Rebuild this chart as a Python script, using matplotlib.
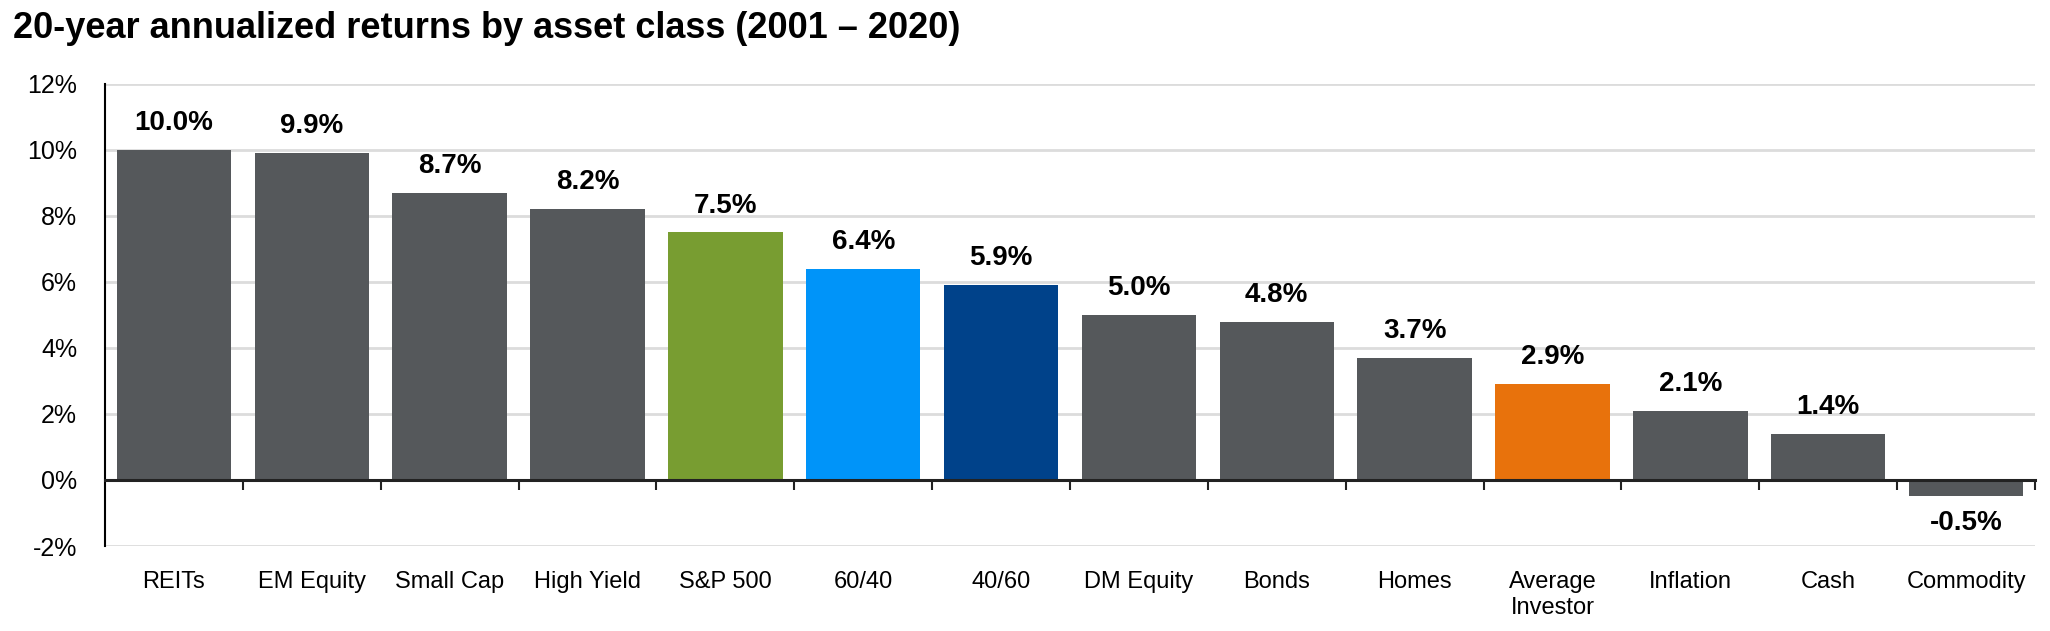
import numpy as np
import matplotlib
matplotlib.use("Agg")
import matplotlib.pyplot as plt
from matplotlib.ticker import FixedLocator

plt.rcParams['font.family'] = ['Liberation Sans', 'DejaVu Sans']

# données
categories = ["REITs", "EM Equity", "Small Cap", "High Yield", "S&P 500", "60/40", "40/60",
              "DM Equity", "Bonds", "Homes", "Average\nInvestor", "Inflation", "Cash", "Commodity"]
returns = [10.0, 9.9, 8.7, 8.2, 7.5, 6.4, 5.9, 5.0, 4.8, 3.7, 2.9, 2.1, 1.4, -0.5]
y_ticks = [-2, 0, 2, 4, 6, 8, 10, 12]
title = "20-year annualized returns by asset class (2001 – 2020)"

gris = "#55585b"
couleurs = {"S&P 500": "#789d31", "60/40": "#0094f9", "40/60": "#00428a",
            "Average\nInvestor": "#e8720c"}
bar_colors = [couleurs.get(c, gris) for c in categories]

fig = plt.figure(figsize=(20.5, 6.31), dpi=100)
ax = fig.add_axes([0.0512, 0.1347, 0.9415, 0.7323])

x = np.arange(len(categories))
ax.bar(x, returns, width=0.83, color=bar_colors, zorder=2)

ax.set_xlim(-0.5, len(categories) - 0.5)
ax.set_ylim(-2, 12)
ax.set_yticks(y_ticks)
ax.set_yticklabels([f"{v}%" for v in y_ticks], fontsize=18)
ax.tick_params(axis='y', length=0, pad=20)
ax.yaxis.grid(True, color="#dcdcdc", linewidth=2, zorder=0)

for s in ["top", "right"]:
    ax.spines[s].set_visible(False)
ax.spines["left"].set_color("black")
ax.spines["left"].set_linewidth(1.5)

# axe du zéro avec petites graduations entre les barres
ax.spines["bottom"].set_position(("data", 0))
ax.spines["bottom"].set_color("#222222")
ax.spines["bottom"].set_linewidth(2.2)
ax.spines["bottom"].set_zorder(3)
ax.set_xticks([])
ax.xaxis.set_minor_locator(FixedLocator(np.arange(0.5, len(categories), 1.0)))
ax.tick_params(axis='x', which='minor', direction='out', length=7, width=1.5, color="#222222")

# libellés des catégories en bas
sec = ax.secondary_xaxis(0.0)
sec.set_xticks(x)
sec.set_xticklabels(categories, fontsize=17, linespacing=1.25)
sec.tick_params(length=0, pad=18)
sec.spines["bottom"].set_visible(False)

# étiquettes des valeurs
for xi, v in zip(x, returns):
    if v >= 0:
        ax.annotate(f"{v:.1f}%", (xi, v), xytext=(0, 10), textcoords="offset points",
                    ha="center", va="bottom", fontsize=20, fontweight="bold")
    else:
        ax.annotate(f"{v:.1f}%", (xi, v), xytext=(0, -10), textcoords="offset points",
                    ha="center", va="top", fontsize=20, fontweight="bold")

fig.text(0.0065, 0.955, title, fontsize=26, fontweight="bold", ha="left", va="center")

fig.savefig("out.png", dpi=100, facecolor="white")
